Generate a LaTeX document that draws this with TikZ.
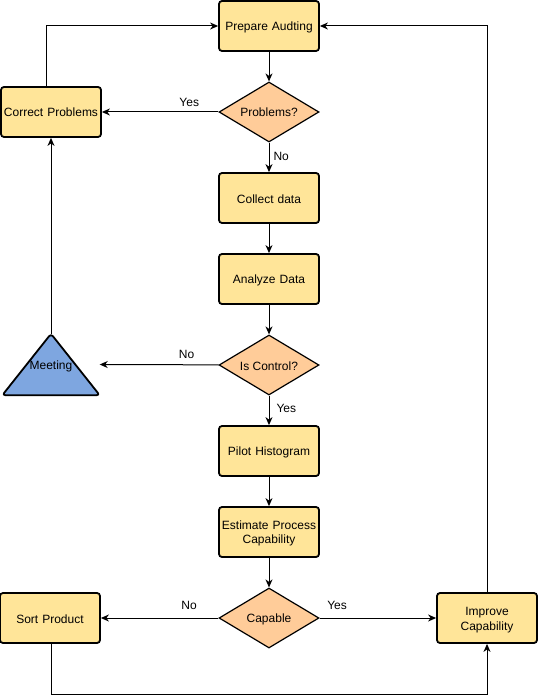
\documentclass[tikz,border=0pt]{standalone}
\usepackage{fontspec}
\setmainfont{Liberation Sans}
\usetikzlibrary{arrows.meta,shapes.geometric}
\definecolor{boxfill}{HTML}{FFE599}
\definecolor{decfill}{HTML}{FFCC99}
\definecolor{trifill}{HTML}{7EA6E0}
\newcommand\mystrut{\rule[-2pt]{0pt}{14pt}}
\begin{document}
\begin{tikzpicture}[x=1pt,y=-1pt,
  every node/.style={font=\fontsize{12pt}{14pt}\selectfont, text=black},
  strutted/.style={execute at begin node=\mystrut, execute at end node=\mystrut},
  procbox/.style={draw=black, line width=1.8pt, fill=boxfill, rounded corners=3pt,
    minimum width=100pt, minimum height=50pt, inner sep=1pt, align=center, text width=98pt, strutted},
  decision/.style={draw=black, line width=1.2pt, fill=decfill, diamond, aspect=1.667,
    minimum width=100pt, minimum height=60pt, inner sep=0pt, align=center, strutted},
  conn/.style={draw=black, line width=1pt, -{Stealth[length=8pt,width=7pt,inset=2.5pt]}},
  lbl/.style={font=\fontsize{12pt}{14pt}\selectfont, inner sep=1pt, strutted}
]
\useasboundingbox (0,0) rectangle (538,695);

\node[procbox] (prep) at (269,26) {Prepare Audting};
\node[decision] (prob) at (269,112) {Problems?};
\node[procbox] (corr) at (51,112) {Correct Problems};
\node[procbox] (coll) at (269,198) {Collect data};
\node[procbox] (anal) at (269,279) {Analyze Data};
\node[decision] (ctrl) at (269,365) {Is Control?};
\node[minimum width=97pt, minimum height=61pt, inner sep=0pt] (meet) at (51,364.5) {};
\draw[line width=1.8pt, fill=trifill, rounded corners=3pt, line join=round]
  (meet.south west) -- (meet.north) -- (meet.south east) -- cycle;
\node[strutted] at (51,365) {Meeting};
\node[procbox] (pilot) at (269,451) {Pilot Histogram};
\node[procbox] (est) at (269,532) {Estimate Process\\Capability};
\node[decision] (cap) at (269,618) {Capable};
\node[procbox] (sort) at (50,618) {Sort Product};
\node[procbox] (impr) at (487,618) {Improve\\Capability};

\coordinate (tl) at (46,26);
\coordinate (tr) at (487,26);
\coordinate (bl) at (51,694);
\coordinate (br) at (487,694);

\draw[conn] (prep) -- (prob);
\draw[conn] (prob) -- node[lbl, pos=0.25, above=2pt] {Yes} (corr);
\draw[conn] (prob) -- node[lbl, pos=0.44, right=3pt] {No} (coll);
\draw[conn] (coll) -- (anal);
\draw[conn] (anal) -- (ctrl);
\draw[conn] (ctrl) -- node[lbl, pos=0.27, above=3pt] {No} (meet.east);
\draw[conn] (ctrl) -- node[lbl, pos=0.39, right=6pt] {Yes} (pilot);
\draw[conn] (pilot) -- (est);
\draw[conn] (est) -- (cap);
\draw[conn] (cap) -- node[lbl, pos=0.25, above=5pt] {No} (sort);
\draw[conn] (cap) -- node[lbl, pos=0.15, above=5pt] {Yes} (impr);
\draw[conn] (meet.north) -- (corr);
\draw[conn] (corr.north -| tl) -- (tl) -- (prep.west);
\draw[conn] (impr.north) -- (tr) -- (prep.east);
\draw[conn] (sort.south -| bl) -- (bl) -- (br) -- (impr.south);
\end{tikzpicture}
\end{document}
